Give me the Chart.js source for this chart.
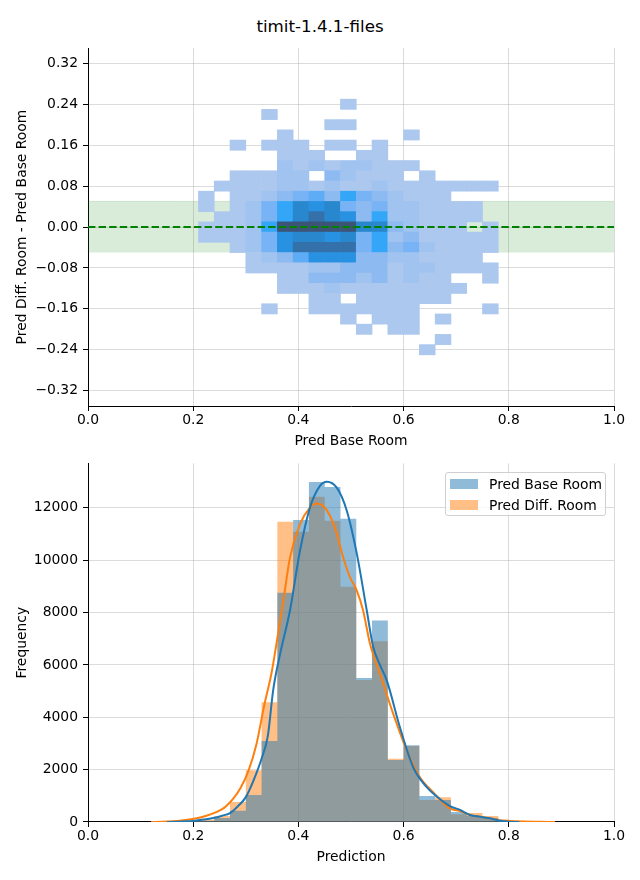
<!DOCTYPE html>
<html>
<head>
<meta charset="utf-8">
<script src="https://cdn.jsdelivr.net/npm/chart.js@4.4.1/dist/chart.umd.min.js"></script>
<style>
    html, body { margin: 0; padding: 0; background: #fff; }
    body { width: 640px; height: 880px; position: relative; overflow: hidden; font-family: "DejaVu Sans", sans-serif; }
    #title { position: absolute; left: 0; top: 16px; width: 640px; text-align: center; font-size: 16.7px; line-height: 20px; color: #000; }
    #topWrap { position: absolute; left: 0; top: 0; width: 640px; height: 450px; }
    #botWrap { position: absolute; left: 0; top: 450px; width: 640px; height: 430px; }
    #legend { position: absolute; left: 445px; top: 472px; width: 161px; height: 44px; box-sizing: border-box;
              border: 1px solid #d0d0d0; border-radius: 3px; background: rgba(255,255,255,0.8); font-size: 13.9px; }
    .item { position: absolute; left: 0; height: 18px; line-height: 18px; white-space: nowrap; }
    .patch { position: absolute; left: 4px; top: 4px; width: 28px; height: 10px; }
    .label { position: absolute; left: 43px; top: 0; color: #000; }
</style>
</head>
<body>
<div id="title">timit-1.4.1-files</div>
<div id="topWrap"><canvas id="heatChart"></canvas></div>
<div id="botWrap"><canvas id="histChart"></canvas></div>
<div id="legend"></div>
<script>
// --- data ---

// 2D histogram: column edges (Pred Base Room) and row centres (difference)
const heatXEdges = [0.21, 0.24, 0.27, 0.30, 0.33, 0.36, 0.39, 0.42, 0.45, 0.48, 0.51,
                    0.54, 0.57, 0.60, 0.63, 0.66, 0.69, 0.72, 0.75, 0.78];
const heatYCenters = [0.24, 0.22, 0.20, 0.18, 0.16, 0.14, 0.12, 0.10, 0.08, 0.06, 0.04, 0.02, 0.00,
                      -0.02, -0.04, -0.06, -0.08, -0.10, -0.12, -0.14, -0.16, -0.18, -0.20, -0.22, -0.24];
// relative cell counts (0 = empty), one row per heatYCenters entry
const heatCounts = [
    [0,0,0,0,0,0,0,0,0,1,0,0,0,0,0,0,0,0,0],
    [0,0,0,0,1,0,0,0,0,0,0,0,0,0,0,0,0,0,0],
    [0,0,0,0,0,0,0,0,1,1,0,0,0,0,0,0,0,0,0],
    [0,0,0,0,0,1,0,0,0,0,0,0,0,1,0,0,0,0,0],
    [0,0,1,0,1,1,1,0,1,1,0,1,0,0,0,0,0,0,0],
    [0,0,0,0,0,1,1,1,0,0,1,1,0,0,0,0,0,0,0],
    [0,0,0,0,0,2,1,2,1,2,2,1,1,1,0,0,0,0,0],
    [0,0,1,1,1,2,2,0,3,2,1,1,1,0,1,0,0,0,0],
    [0,1,1,1,1,2,2,1,2,1,1,2,1,1,1,1,1,1,1],
    [1,0,1,1,2,3,4,5,3,6,4,3,2,1,1,1,0,0,0],
    [1,0,1,2,4,6,8,7,8,4,3,4,2,2,1,1,1,1,0],
    [0,1,1,2,4,6,8,9,8,7,3,6,2,2,1,1,1,1,0],
    [1,1,1,2,6,10,10,10,10,10,8,8,3,2,1,1,1,0,1],
    [1,1,1,2,4,7,8,8,7,8,4,6,2,3,1,1,1,1,1],
    [0,0,1,2,4,7,9,9,9,9,4,6,3,4,2,1,1,1,1],
    [0,0,0,1,2,3,5,7,7,7,3,3,2,2,1,1,1,1,0],
    [0,0,0,1,1,1,1,2,2,3,3,3,1,2,2,1,1,1,1],
    [0,0,0,0,0,1,1,3,3,3,2,3,1,2,1,1,0,0,1],
    [0,0,0,0,0,1,1,1,2,1,1,1,1,1,1,1,1,0,0],
    [0,0,0,0,0,0,0,1,1,0,1,1,1,1,1,1,0,0,0],
    [0,0,0,0,1,0,0,1,1,1,1,1,1,1,0,0,0,0,1],
    [0,0,0,0,0,0,0,0,0,1,0,1,1,1,0,1,0,0,0],
    [0,0,0,0,0,0,0,0,0,0,1,0,1,1,0,0,0,0,0],
    [0,0,0,0,0,0,0,0,0,0,0,0,0,0,0,1,0,0,0],
    [0,0,0,0,0,0,0,0,0,0,0,0,0,0,1,0,0,0,0]
];
const bandLimits = [-0.05, 0.05];

// 1D histograms: bin edges and counts per bin
const histEdges = [0.15, 0.18, 0.21, 0.24, 0.27, 0.30, 0.33, 0.36, 0.39, 0.42, 0.45, 0.48, 0.51,
                   0.54, 0.57, 0.60, 0.63, 0.66, 0.69, 0.72, 0.75, 0.78, 0.81, 0.84, 0.87];
const baseCounts = [5, 25, 50, 150, 430, 1030, 3090, 8760, 11540, 12990, 12800, 11580,
                    5500, 7700, 2370, 2930, 990, 840, 380, 230, 150, 50, 0, 0];
const diffCounts = [20, 35, 90, 230, 760, 1980, 4570, 11470, 11090, 12420, 11510, 8990,
                    5420, 6900, 2420, 2900, 840, 950, 300, 340, 230, 60, 20, 10];

// KDE curves
const kdeBaseX = [0.15, 0.18, 0.20, 0.213, 0.238, 0.255, 0.27, 0.285, 0.30, 0.315, 0.331, 0.342, 0.352,
                  0.365, 0.384, 0.403, 0.422, 0.441, 0.454, 0.473, 0.492, 0.511, 0.530, 0.542, 0.555,
                  0.568, 0.593, 0.618, 0.644, 0.669, 0.688, 0.707, 0.726, 0.745, 0.764, 0.783, 0.80, 0.82];
const kdeBaseY = [0, 15, 40, 76, 150, 240, 340, 600, 950, 1600, 2480, 3300, 5030,
                  6400, 8080, 10360, 12010, 12840, 13000, 12770, 11890, 10250, 8080, 6700, 6000,
                  5410, 3620, 2100, 1330, 880, 610, 460, 270, 200, 140, 50, 10, 0];
const kdeDiffX = [0.12, 0.142, 0.175, 0.207, 0.225, 0.245, 0.26, 0.275, 0.29, 0.305, 0.32, 0.335, 0.349,
                  0.359, 0.371, 0.384, 0.403, 0.422, 0.435, 0.447, 0.460, 0.473, 0.485, 0.498, 0.511,
                  0.523, 0.536, 0.555, 0.580, 0.606, 0.631, 0.656, 0.688, 0.707, 0.726, 0.745, 0.764,
                  0.783, 0.802, 0.827, 0.859, 0.888];
const kdeDiffY = [0, 5, 45, 140, 240, 390, 560, 860, 1300, 1950, 2950, 4450, 5700,
                  6900, 8400, 10100, 11380, 12010, 12170, 12080, 11700, 11010, 10110, 9350, 8840,
                  8080, 6820, 5670, 4150, 2740, 1710, 1140, 520, 420, 270, 200, 140,
                  70, 40, 20, 10, 0];

// ticks
const xTicks = [0, 0.2, 0.4, 0.6, 0.8, 1.0];
const diffTicks = [-0.32, -0.24, -0.16, -0.08, 0, 0.08, 0.16, 0.24, 0.32];
const freqTicks = [0, 2000, 4000, 6000, 8000, 10000, 12000];

// --- styling ---
const heatPalette = ['#acc8ee', '#a0c3f0', '#8cbaf1', '#78b4f5', '#5facf6',
                     '#34a6f7', '#2891e1', '#2887cd', '#3470aa', '#3c5576'];
const gridColor = 'rgba(176,176,176,0.45)';
const tickFont = { family: '"DejaVu Sans", sans-serif', size: 13.9 };
const labelFont = { family: '"DejaVu Sans", sans-serif', size: 13.9 };

Chart.defaults.animation = false;
Chart.defaults.color = '#000';
Chart.defaults.font.family = '"DejaVu Sans", sans-serif';

const xAxis = (title, height, titlePad) => ({
    type: 'linear', min: 0, max: 1, offset: false, z: 1,
    afterBuildTicks: s => { s.ticks = xTicks.map(v => ({ value: v })); },
    afterFit: s => { s.height = height; },
    ticks: { callback: v => v.toFixed(1), padding: 1, font: tickFont, maxRotation: 0, autoSkip: false },
    grid: { color: gridColor, offset: false, tickColor: '#000', tickLength: 5, tickWidth: 1 },
    border: { color: '#000', width: 1 },
    title: { display: true, text: title, font: labelFont, padding: { top: 0, bottom: titlePad } }
});

const yAxis = (title, min, max, tickList, fmt) => ({
    type: 'linear', min, max, offset: false, z: 1,
    afterBuildTicks: s => { s.ticks = tickList.map(v => ({ value: v })); },
    afterFit: s => { s.width = 88; },
    ticks: { callback: fmt, padding: 5, font: tickFont, autoSkip: false },
    grid: { color: gridColor, offset: false, tickColor: '#000', tickLength: 5, tickWidth: 1 },
    border: { color: '#000', width: 1 },
    title: { display: true, text: title, font: labelFont, padding: { top: 13.7, bottom: 0 } }
});

// --- top: 2D histogram ---
const cells = [];
const cellColors = [];
heatYCenters.forEach((y, r) => {
    heatCounts[r].forEach((c, k) => {
        if (!c) return;
        cells.push({ x: [heatXEdges[k], heatXEdges[k + 1]], y });
        cellColors.push(heatPalette[c - 1]);
    });
});

new Chart(document.getElementById('heatChart'), {
    type: 'bar',
    data: {
        datasets: [
            {
                type: 'line', indexAxis: 'x', order: 0,
                data: [{ x: 0, y: 0 }, { x: 1, y: 0 }],
                borderColor: '#008000', borderWidth: 2, borderDash: [7.4, 3.2],
                pointRadius: 0, fill: false
            },
            {
                type: 'bar', indexAxis: 'y', order: 1,
                data: cells, backgroundColor: cellColors,
                borderWidth: 0, categoryPercentage: 1, barPercentage: 1
            },
            {
                type: 'line', indexAxis: 'x', order: 2,
                data: [{ x: 0, y: bandLimits[1] }, { x: 1, y: bandLimits[1] }],
                borderWidth: 1, borderColor: 'rgba(0,128,0,0.15)', pointRadius: 0,
                fill: { value: bandLimits[0] }, backgroundColor: 'rgba(0,128,0,0.15)'
            }
        ]
    },
    options: {
        responsive: true, maintainAspectRatio: false, indexAxis: 'y',
        layout: { padding: { top: 48, right: 26, left: 0, bottom: 0 } },
        plugins: { legend: { display: false }, tooltip: { enabled: false } },
        scales: {
            x: xAxis('Pred Base Room', 44, 0.7),
            y: yAxis('Pred Diff. Room - Pred Base Room', -0.35, 0.35, diffTicks,
                     v => v.toFixed(2).replace('-', '\u2212'))
        }
    }
});

// --- bottom: 1D histograms (stepped areas) with KDE ---
const baseColor = '#1f77b4';
const diffColor = '#ff7f0e';
// each edge carries the count of the bin that starts there; the last edge closes the last bin
const stepData = counts => histEdges.map((x, i) => ({ x, y: counts[Math.min(i, counts.length - 1)] }));

const histChart = new Chart(document.getElementById('histChart'), {
    type: 'line',
    data: {
        datasets: [
            {
                label: 'kde base', order: 0, hist: false,
                data: kdeBaseX.map((x, i) => ({ x, y: kdeBaseY[i] })),
                borderColor: baseColor, borderWidth: 2, pointRadius: 0,
                cubicInterpolationMode: 'monotone', fill: false
            },
            {
                label: 'kde diff', order: 1, hist: false,
                data: kdeDiffX.map((x, i) => ({ x, y: kdeDiffY[i] })),
                borderColor: diffColor, borderWidth: 2, pointRadius: 0,
                cubicInterpolationMode: 'monotone', fill: false
            },
            {
                label: 'Pred Base Room', order: 2, hist: true,
                data: stepData(baseCounts), stepped: 'before',
                backgroundColor: 'rgba(31,119,180,0.5)', borderColor: 'rgba(0,0,0,0)',
                borderWidth: 1, pointRadius: 0, fill: 'origin'
            },
            {
                label: 'Pred Diff. Room', order: 3, hist: true,
                data: stepData(diffCounts), stepped: 'before',
                backgroundColor: 'rgba(255,127,14,0.5)', borderColor: 'rgba(0,0,0,0)',
                borderWidth: 1, pointRadius: 0, fill: 'origin'
            }
        ]
    },
    options: {
        responsive: true, maintainAspectRatio: false,
        layout: { padding: { top: 13, right: 26, left: 0, bottom: 0 } },
        plugins: { legend: { display: false }, tooltip: { enabled: false } },
        scales: {
            x: xAxis('Prediction', 58, 14.7),
            y: yAxis('Frequency', 0, 13700, freqTicks, v => String(v))
        }
    }
});

// legend in the upper right corner, built from the histogram datasets
const legend = document.getElementById('legend');
histChart.data.datasets.filter(d => d.hist).sort((a, b) => a.order - b.order).forEach((d, i) => {
    const item = document.createElement('div');
    item.className = 'item';
    item.style.top = (2 + i * 21) + 'px';
    item.innerHTML = '<span class="patch" style="background:' + d.backgroundColor + '"></span>' +
                     '<span class="label">' + d.label + '</span>';
    legend.appendChild(item);
});
</script>
</body>
</html>
